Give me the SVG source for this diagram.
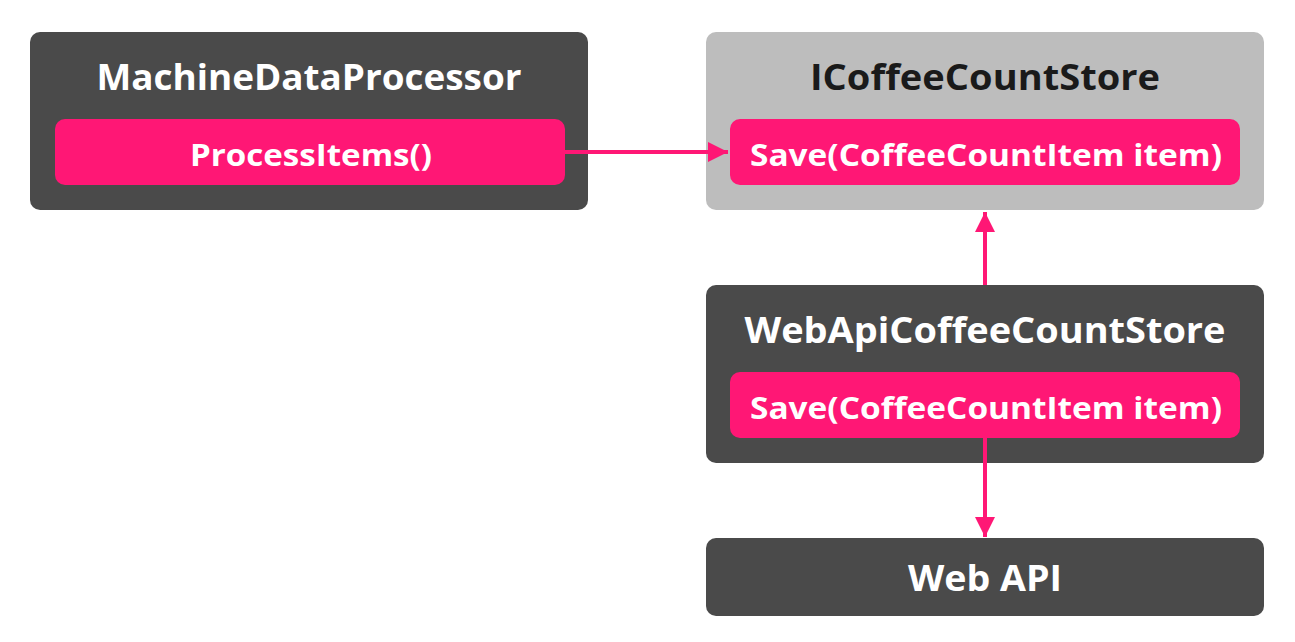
<svg xmlns="http://www.w3.org/2000/svg" width="1295" height="642" viewBox="0 0 1295 642">
<defs>
<style>
.dark{fill:#4a4a4a}
.light{fill:#bdbdbd}
.pink{fill:#ff1775}
.title{font-family:"Open Sans","Liberation Sans",sans-serif;font-weight:700;font-size:36px;text-anchor:middle}
.method{font-family:"Open Sans","Liberation Sans",sans-serif;font-weight:700;font-size:31px;text-anchor:middle;fill:#ffffff}
.w{fill:#ffffff}
.k{fill:#1a1a1a}
.conn{stroke:#ff1775;stroke-width:4;fill:none}
</style>
<marker id="ah" viewBox="0 0 10 10" refX="10" refY="5" markerWidth="5" markerHeight="5" orient="auto" markerUnits="strokeWidth">
<path d="M0,0 L10,5 L0,10 z" fill="#ff1775"/>
</marker>
</defs>
<g id="machineDataProcessor">
<rect class="dark" x="30" y="32" width="558" height="178" rx="10"/>
<text class="title w" x="309" y="90" textLength="425" lengthAdjust="spacingAndGlyphs">MachineDataProcessor</text>
<rect class="pink" x="55" y="119" width="510" height="66" rx="10"/>
<text class="method" x="311" y="166" textLength="242" lengthAdjust="spacingAndGlyphs">ProcessItems()</text>
</g>
<g id="iCoffeeCountStore">
<rect class="light" x="706" y="32" width="558" height="178" rx="10"/>
<text class="title k" x="985" y="90" textLength="350" lengthAdjust="spacingAndGlyphs">ICoffeeCountStore</text>
<rect class="pink" x="730" y="119" width="510" height="66" rx="10"/>
<text class="method" x="986" y="166" textLength="472" lengthAdjust="spacingAndGlyphs">Save(CoffeeCountItem item)</text>
</g>
<g id="webApiCoffeeCountStore">
<rect class="dark" x="706" y="285" width="558" height="178" rx="10"/>
<text class="title w" x="985" y="343" textLength="481" lengthAdjust="spacingAndGlyphs">WebApiCoffeeCountStore</text>
<rect class="pink" x="730" y="372" width="510" height="66" rx="10"/>
<text class="method" x="986" y="419" textLength="472" lengthAdjust="spacingAndGlyphs">Save(CoffeeCountItem item)</text>
</g>
<g id="webApi">
<rect class="dark" x="706" y="538" width="558" height="78" rx="10"/>
<text class="title w" x="985" y="591" textLength="154" lengthAdjust="spacingAndGlyphs">Web API</text>
</g>
<g id="connectors">
<line class="conn" x1="565" y1="152" x2="728" y2="152" marker-end="url(#ah)"/>
<line class="conn" x1="985" y1="285" x2="985" y2="212" marker-end="url(#ah)"/>
<line class="conn" x1="985" y1="438" x2="985" y2="537" marker-end="url(#ah)"/>
</g>
</svg>
